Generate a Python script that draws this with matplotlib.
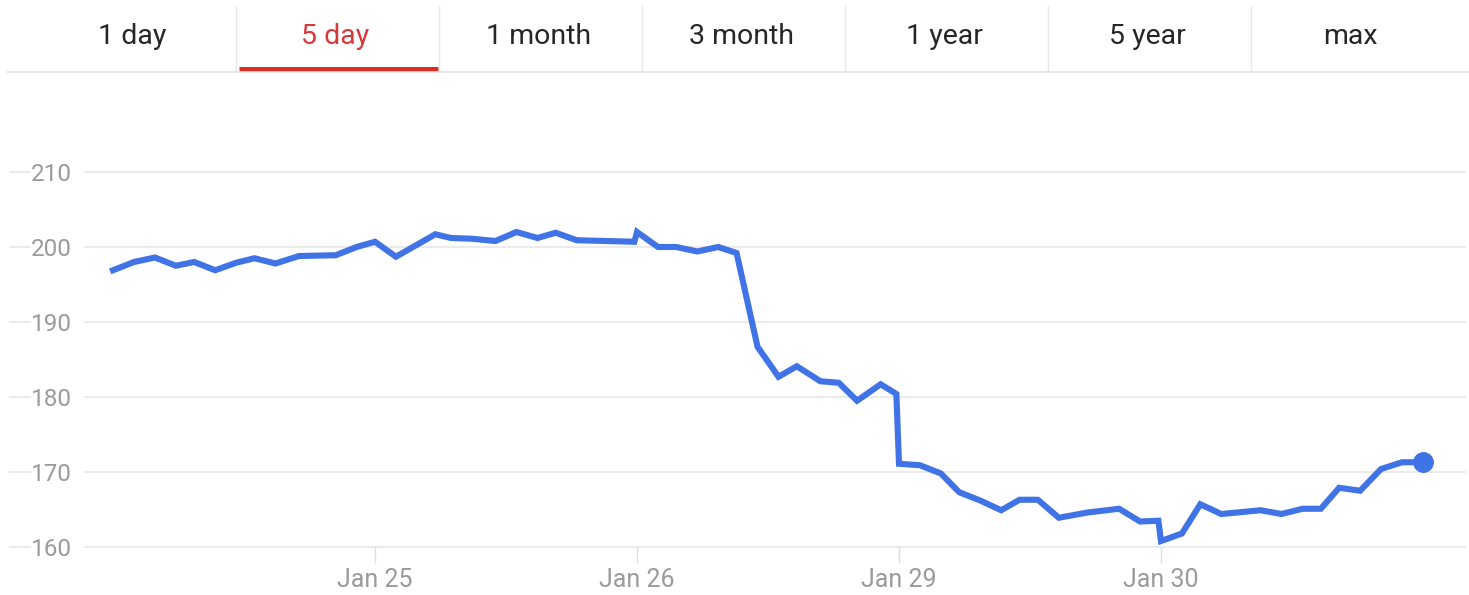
import matplotlib
matplotlib.use("Agg")
import matplotlib.pyplot as plt
from matplotlib.lines import Line2D
import matplotlib.transforms as mtransforms

plt.rcParams['font.family'] = ['Roboto', 'DejaVu Sans']

# ---- data ----
tabs = ["1 day", "5 day", "1 month", "3 month", "1 year", "5 year", "max"]
active_tab = "5 day"

sessions = ["Jan 24", "Jan 25", "Jan 26", "Jan 29", "Jan 30"]
tick_labels = ["Jan 25", "Jan 26", "Jan 29", "Jan 30"]
tick_sessions = [1, 2, 3, 4]

y_ticks = [160, 170, 180, 190, 200, 210]

# time position in trading-session units (0 = open of first session)
t = [0.00, 0.08, 0.16, 0.24, 0.31, 0.39, 0.47, 0.54, 0.62, 0.71, 0.85, 0.93,
     1.00, 1.08, 1.16, 1.23, 1.29, 1.37, 1.46, 1.54, 1.62, 1.69, 1.77, 1.99,
     2.00, 2.08, 2.15, 2.23, 2.31, 2.38, 2.46, 2.54, 2.61, 2.70, 2.77, 2.84,
     2.93, 2.99, 3.00, 3.08, 3.16, 3.23, 3.31, 3.39, 3.46, 3.53, 3.61, 3.72,
     3.84, 3.92, 3.99, 4.00, 4.08, 4.15, 4.23, 4.38, 4.46, 4.54, 4.61, 4.68,
     4.76, 4.84, 4.92, 5.00]
price = [196.9, 198.0, 198.6, 197.5, 198.0, 196.9, 197.9, 198.5, 197.8, 198.8, 198.9, 200.0,
         200.7, 198.7, 200.3, 201.7, 201.2, 201.1, 200.8, 202.0, 201.2, 201.9, 200.9, 200.7,
         202.0, 200.0, 200.0, 199.4, 200.0, 199.2, 186.7, 182.7, 184.1, 182.1, 181.9, 179.5,
         181.7, 180.4, 171.1, 170.9, 169.8, 167.3, 166.2, 164.9, 166.3, 166.3, 163.9, 164.6,
         165.1, 163.4, 163.5, 160.8, 161.8, 165.7, 164.4, 164.9, 164.4, 165.1, 165.1, 167.9,
         167.5, 170.4, 171.3, 171.3]

# ---- figure ----
W, H = 1469, 595
fig = plt.figure(figsize=(W / 100, H / 100), dpi=100)
fig.patch.set_facecolor("white")

def fx(px):
    return px / W

def fy(py):
    return 1 - py / H

# tab bar
tab_w = 203
tab_x0 = 31
sep_color = "#e8e8e8"
for i, name in enumerate(tabs):
    cx = tab_x0 + tab_w * (i + 0.5)
    is_active = name == active_tab
    fig.text(fx(cx), fy(44), name, ha="center", va="baseline", fontsize=20.5,
             color="#d9383a" if is_active else "#262626")
    if i > 0:
        xs = tab_x0 + tab_w * i + 2
        fig.add_artist(Line2D([fx(xs), fx(xs)], [fy(6), fy(71)], color=sep_color, lw=1.0))
    if is_active:
        fig.add_artist(Line2D([fx(tab_x0 + tab_w * i + 5), fx(tab_x0 + tab_w * (i + 1) + 1)],
                              [fy(68.5), fy(68.5)], color="#d93025", lw=3.6,
                              solid_capstyle="butt"))
fig.add_artist(Line2D([fx(7), fx(W)], [fy(72), fy(72)], color="#e3e3e3", lw=1.2))

# chart axes
ax_left, ax_right, ax_top, ax_bot = 10, 1465, 150, 547
ax = fig.add_axes([fx(ax_left), fy(ax_bot), fx(ax_right - ax_left), (ax_bot - ax_top) / H])
px_per_session = 262.0
x0_px = 113
ax.set_xlim((ax_left - x0_px) / px_per_session, (ax_right - x0_px) / px_per_session)
px_per_unit = 7.5
ax.set_ylim(160, 210 + (172 - ax_top) / px_per_unit)

for s in ax.spines.values():
    s.set_visible(False)

# horizontal gridlines, broken where the value labels sit
blend = mtransforms.blended_transform_factory(ax.transAxes, ax.transData)
axw = ax_right - ax_left
grid_color = "#ebebeb"
for v in y_ticks:
    ax.plot([0, (30 - ax_left) / axw], [v, v], color=grid_color, lw=1.4,
            transform=blend, clip_on=False, zorder=1)
    ax.plot([(85 - ax_left) / axw, 1], [v, v], color=grid_color, lw=1.4,
            transform=blend, clip_on=False, zorder=1)

ax.set_yticks(y_ticks)
ax.set_yticklabels([str(v) for v in y_ticks])
ax.tick_params(axis="y", length=0, pad=-44.5, labelsize=17.5, labelcolor="#9b9b9b")

ax.set_xticks(tick_sessions)
ax.set_xticklabels(tick_labels)
ax.tick_params(axis="x", length=11.5, width=1.0, color="#e0e0e0", direction="out",
               pad=3.5, labelsize=18, labelcolor="#9b9b9b")

line_color = "#3f73e6"
ax.plot(t, price, color=line_color, lw=4.4, solid_joinstyle="miter", zorder=3, clip_on=False)
ax.plot([t[-1]], [price[-1]], "o", color=line_color, ms=14, zorder=4, clip_on=False)

fig.savefig("out.png", dpi=100, facecolor="white")
